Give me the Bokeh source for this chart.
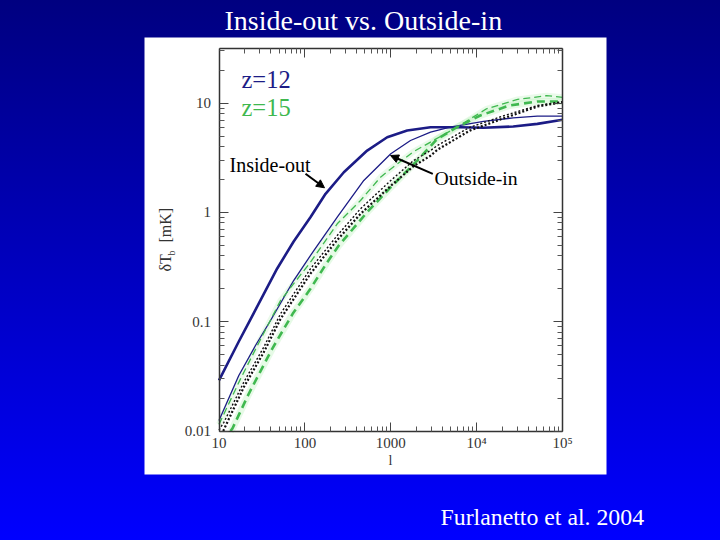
from bokeh.embed import file_html
from bokeh.models import (Arrow, BoxAnnotation, FixedTicker, GlobalInlineStyleSheet, Label,
                          LogAxis, NormalHead, Range1d)
from bokeh.plotting import figure
from bokeh.resources import INLINE

# inside-out, z=12
io12_l = [10, 17, 27.9, 47.6, 74, 116, 174, 284, 531, 908, 1552, 2900, 6500, 12000, 26600, 50800, 100000]
io12_t = [0.029, 0.0659, 0.138, 0.307, 0.542, 0.904, 1.479, 2.33, 3.68, 4.87, 5.61, 6.02, 6.02, 5.94, 6.11, 6.46, 7.03]

# outside-in, z=12
oi12_l = [10, 17, 26.6, 39.8, 74, 127, 238, 485, 1000, 1695, 2900, 4900, 12000, 26600, 50800, 100000]
oi12_t = [0.0125, 0.0322, 0.0606, 0.1026, 0.238, 0.448, 0.904, 1.96, 3.44, 4.55, 5.42, 6.02, 6.79, 7.33, 7.6, 7.6]

# thin green dashes
oi15_l = [10, 17.8, 30, 52, 116, 238, 444, 759, 1000, 1840, 2900, 5900, 13000, 30000, 65000, 100000]
oi15_t = [0.0115, 0.03, 0.0673, 0.156, 0.35, 0.787, 1.285, 2.1, 2.5, 3.6, 4.4, 6.02, 8.87, 10.8, 11.7, 11.3]

# thick green dashes
io15_l = [13.6, 14.3, 22.2, 41.6, 72, 116, 182, 248, 531, 1000, 2030, 3470, 5900, 11000, 24000, 50800, 100000]
io15_t = [0.01, 0.0105, 0.0219, 0.0565, 0.118, 0.2, 0.35, 0.498, 1.005, 1.7, 2.98, 4.7, 6.02, 7.7, 9.5, 10.35, 10.35]

# black dotted pair
dot_hi_l = [10, 11.4, 19.4, 33.2, 52, 116, 238, 444, 1000, 1840, 2900, 3500, 8300, 20000, 50800, 100000]
dot_hi_t = [0.0102, 0.012, 0.0279, 0.0585, 0.118, 0.305, 0.615, 1.08, 1.96, 2.98, 3.68, 4.1, 6.0, 7.6, 9.5, 10.3]
dot_lo_l = [11.2, 19.4, 33.2, 52, 116, 238, 444, 1000, 1840, 2900, 3500, 8300, 20000, 50800, 100000]
dot_lo_t = [0.01, 0.0251, 0.0525, 0.106, 0.275, 0.56, 0.97, 1.75, 2.65, 3.3, 3.75, 5.6, 7.2, 9.3, 10.2]

x_labels = {10: "10", 100: "100", 1000: "1000", 10000: "10⁴", 100000: "10⁵"}
y_labels = {0.01: "0.01", 0.1: "0.1", 1: "1", 10: "10"}
x_minor = [m * d for d in (10, 100, 1000, 10000) for m in range(2, 10)]
y_minor = [m * d for d in (0.01, 0.1, 1) for m in range(2, 10)] + [20, 30]

NAVY = "#1c1c86"
GREEN = "#3fb84f"
INK = "#333333"
SERIF = "Liberation Serif"


# the frame fills the whole page; these turn page pixels into data values
def dx(px):
    return 10 ** (1 + (px - 218.5) / 85.9)


def dy(py):
    return 10 ** ((430.5 - py) / 109.3 - 2)


page_css = GlobalInlineStyleSheet(css="""
html { background: linear-gradient(#000080, #0000ff) no-repeat; background-size: 100% 540px; }
body { background: transparent; }
""")

p = figure(width=720, height=540, x_axis_type="log", y_axis_type="log",
           x_range=Range1d(dx(0), dx(720)), y_range=Range1d(dy(540), dy(0)),
           min_border=0, output_backend="svg", toolbar_location=None,
           stylesheets=[page_css])
p.background_fill_alpha = 0
p.border_fill_alpha = 0
p.outline_line_color = None
p.grid.visible = False

# white sheet behind the plot
p.add_layout(BoxAnnotation(left=dx(144), right=dx(606), top=dy(37), bottom=dy(474),
                           fill_color="white", fill_alpha=1, line_alpha=0, level="underlay"))

top = dy(48.3)
x_ticker = FixedTicker(ticks=list(x_labels), minor_ticks=x_minor)
y_ticker = FixedTicker(ticks=list(y_labels), minor_ticks=y_minor)


def style_axis(ax):
    ax.major_tick_in = 9
    ax.major_tick_out = 0
    ax.minor_tick_in = 5
    ax.minor_tick_out = 0
    ax.major_tick_line_color = "#444444"
    ax.minor_tick_line_color = "#555555"
    ax.axis_line_color = INK
    ax.axis_line_width = 1.5
    ax.major_label_text_font = SERIF
    ax.major_label_text_font_size = "15px"
    ax.major_label_text_color = INK


bottom_ax, left_ax = p.xaxis[0], p.yaxis[0]
right_ax = LogAxis()
top_ax = LogAxis()
p.add_layout(right_ax, "right")
p.add_layout(top_ax, "above")

for ax, loc in [(bottom_ax, 0.01), (top_ax, top)]:
    style_axis(ax)
    ax.fixed_location = loc
    ax.bounds = (10, 100000)
    ax.ticker = x_ticker
for ax, loc in [(left_ax, 10), (right_ax, 100000)]:
    style_axis(ax)
    ax.fixed_location = loc
    ax.bounds = (0.01, top)
    ax.ticker = y_ticker

bottom_ax.major_label_overrides = x_labels
bottom_ax.major_label_standoff = 4
left_ax.major_label_overrides = y_labels
left_ax.major_label_standoff = 8
top_ax.major_label_overrides = {t: "" for t in x_labels}
right_ax.major_label_overrides = {t: "" for t in y_labels}

# pale halo the green dashes have in the picture
p.line(oi15_l, oi15_t, line_color="#b8f0b8", line_width=6, line_alpha=0.3)
p.line(io15_l, io15_t, line_color="#b8f0b8", line_width=7, line_alpha=0.35)

p.line(io12_l, io12_t, line_color=NAVY, line_width=2.6, line_join="round")
p.line(oi12_l, oi12_t, line_color=NAVY, line_width=1.3, line_join="round")
p.line(oi15_l, oi15_t, line_color=GREEN, line_width=1.3, line_dash=[7, 4], line_join="round")
p.line(io15_l, io15_t, line_color=GREEN, line_width=2.6, line_dash=[8, 5], line_join="round")
p.line(dot_hi_l, dot_hi_t, line_color="#111111", line_width=1.4, line_dash=[2, 2])
p.line(dot_lo_l, dot_lo_t, line_color="#111111", line_width=2.2, line_dash=[2, 2])

head = dict(size=8, fill_color="black", line_color="black")
p.add_layout(Arrow(end=NormalHead(**head), x_start=dx(305), y_start=dy(173.3),
                   x_end=dx(324), y_end=dy(187.3), line_color="black", line_width=2))
p.add_layout(Arrow(end=NormalHead(**head), x_start=dx(432.3), y_start=dy(173.3),
                   x_end=dx(390), y_end=dy(155), line_color="black", line_width=2))


def text(px, py, s, size, color="black", **kw):
    kw.setdefault("text_baseline", "middle")
    p.add_layout(Label(x=dx(px), y=dy(py), text=s, text_font=SERIF, text_font_size=size,
                       text_color=color, **kw))


text(241, 78.5, "z=12", "24.5px", NAVY)
text(241, 106.5, "z=15", "24.5px", GREEN)
text(229, 164.5, "Inside-out", "20px")
text(434, 177, "Outside-in", "19.7px")

# y label, rotated, with its subscript
text(164.7, 271, "δT", "16px", INK, angle=1.5708)
text(170.5, 255, "b", "10px", INK, angle=1.5708)
text(164.7, 242, "[mK]", "16px", INK, angle=1.5708)
text(390, 460, "l", "14px", INK, text_align="center")

# slide texts on the blue
text(224, 20, "Inside-out vs. Outside-in", "28px", "white")
text(440, 516, "Furlanetto et al. 2004", "23.8px", "white")

open("out.html", "w").write(file_html(p, INLINE))
